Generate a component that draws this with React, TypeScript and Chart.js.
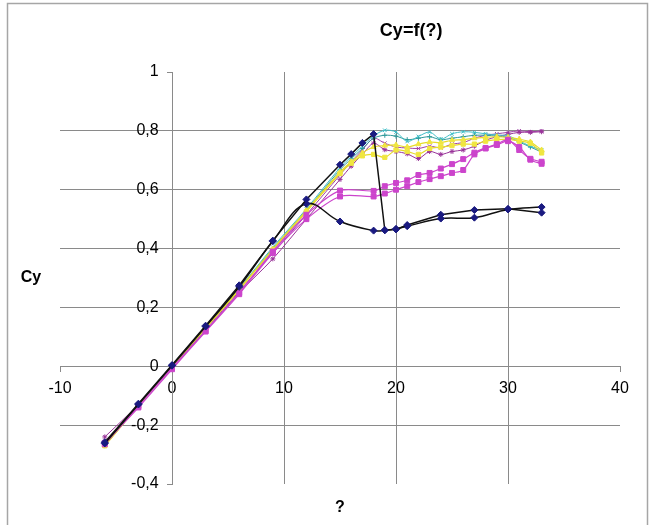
import React, { useEffect, useRef } from "react";
import { Chart, registerables } from "chart.js";

Chart.register(...registerables);

const TITLE = "Cy=f(?)";
const X_TITLE = "?";
const Y_TITLE = "Cy";

const X_MIN = -10;
const X_MAX = 40;
const X_STEP = 10;
const Y_MIN = -0.4;
const Y_MAX = 1;
const Y_STEP = 0.2;

// Black series with navy diamonds (stall with sharp drop)
const ALPHA_A = [-6, -3, 0, 3, 6, 9, 12, 15, 16, 17, 18, 19, 20, 21, 24, 27, 30, 33];
const CY_A = [-0.258, -0.127, 0.004, 0.138, 0.275, 0.427, 0.567, 0.685, 0.721, 0.759, 0.789, 0.463, 0.465, 0.48, 0.515, 0.531, 0.535, 0.522];

// Black series with navy diamonds (smooth hump)
const ALPHA_B = [-6, -3, 0, 3, 6, 9, 12, 15, 18, 19, 20, 21, 24, 27, 30, 33];
const CY_B = [-0.262, -0.13, 0.002, 0.135, 0.27, 0.425, 0.552, 0.492, 0.461, 0.462, 0.467, 0.476, 0.502, 0.505, 0.533, 0.541];

// Fine-step angles shared by the coloured series
const ALPHA_FINE = [-6, -3, 0, 3, 6, 9, 12, 15, 16, 17, 18, 19, 20, 21, 22, 23, 24, 25, 26, 27, 28, 29, 30, 31, 32, 33];
const ALPHA_SQ = [-6, -3, 0, 3, 6, 9, 12, 15, 18, 19, 20, 21, 22, 23, 24, 25, 26, 27, 28, 29, 30, 31, 32, 33];

const CY_CYAN = [-0.265, -0.133, 0.002, 0.132, 0.265, 0.405, 0.535, 0.675, 0.712, 0.748, 0.783, 0.802, 0.796, 0.764, 0.781, 0.796, 0.772, 0.79, 0.797, 0.795, 0.79, 0.786, 0.783, 0.766, 0.748, 0.735];
const CY_TEAL = [-0.27, -0.135, 0.0, 0.13, 0.262, 0.4, 0.53, 0.668, 0.705, 0.74, 0.775, 0.785, 0.782, 0.77, 0.775, 0.78, 0.77, 0.775, 0.78, 0.785, 0.785, 0.782, 0.778, 0.762, 0.745, 0.728];
const CY_YELLOW1 = [-0.27, -0.135, 0.0, 0.13, 0.26, 0.395, 0.525, 0.655, 0.69, 0.715, 0.72, 0.71, 0.735, 0.73, 0.72, 0.74, 0.745, 0.75, 0.755, 0.755, 0.765, 0.77, 0.772, 0.765, 0.758, 0.725];
const CY_YELLOW2 = [-0.268, -0.134, 0.0, 0.13, 0.262, 0.398, 0.53, 0.66, 0.695, 0.725, 0.745, 0.75, 0.752, 0.745, 0.755, 0.762, 0.76, 0.768, 0.77, 0.775, 0.778, 0.78, 0.778, 0.772, 0.762, 0.735];
const CY_PURPLE1 = [-0.24, -0.13, 0.0, 0.12, 0.25, 0.365, 0.5, 0.635, 0.68, 0.72, 0.758, 0.736, 0.73, 0.722, 0.706, 0.73, 0.72, 0.73, 0.735, 0.748, 0.768, 0.78, 0.788, 0.795, 0.795, 0.797];
const CY_PURPLE2 = [-0.262, -0.133, 0.0, 0.125, 0.255, 0.385, 0.515, 0.65, 0.695, 0.735, 0.775, 0.758, 0.745, 0.742, 0.74, 0.748, 0.742, 0.755, 0.76, 0.775, 0.785, 0.79, 0.795, 0.8, 0.797, 0.8];
const CY_MAGENTA1 = [-0.265, -0.135, -0.005, 0.12, 0.25, 0.39, 0.515, 0.597, 0.596, 0.612, 0.623, 0.632, 0.65, 0.657, 0.672, 0.687, 0.704, 0.726, 0.742, 0.755, 0.77, 0.735, 0.705, 0.695];
const CY_MAGENTA2 = [-0.26, -0.14, -0.01, 0.118, 0.245, 0.385, 0.5, 0.577, 0.577, 0.587, 0.6, 0.612, 0.626, 0.636, 0.646, 0.657, 0.667, 0.72, 0.74, 0.752, 0.765, 0.745, 0.702, 0.688];

const FONT = '"Liberation Sans", Arial, sans-serif';

function pts(xs: number[], ys: number[]) {
  return xs.map((x, i) => ({ x, y: ys[i] }));
}

function series(xs: number[], ys: number[], line: string, marker: string, style: string, radius: number, width: number, tension: number) {
  return {
    data: pts(xs, ys),
    borderColor: line,
    backgroundColor: marker,
    pointBorderColor: marker,
    pointBackgroundColor: marker,
    pointStyle: style,
    pointRadius: radius,
    pointBorderWidth: 1,
    borderWidth: width,
    tension,
    showLine: true,
  };
}

const decor = {
  id: "decor",
  beforeDraw(chart: any) {
    const ctx = chart.ctx;
    ctx.save();
    ctx.fillStyle = "#ffffff";
    ctx.fillRect(0, 0, chart.width, chart.height);
    ctx.strokeStyle = "#a6a6a6";
    ctx.lineWidth = 1.5;
    ctx.strokeRect(7.5, 3.5, 640, 560);
    ctx.restore();
  },
  afterDraw(chart: any) {
    const { ctx, chartArea: ca } = chart;
    ctx.save();
    ctx.fillStyle = "#000000";
    ctx.textAlign = "center";
    ctx.textBaseline = "middle";
    ctx.font = `bold 18px ${FONT}`;
    ctx.fillText(TITLE, ca.left + (ca.right - ca.left) * 0.627, ca.top - 41);
    ctx.font = `bold 16px ${FONT}`;
    ctx.fillText(Y_TITLE, ca.left - 29, ca.top + (ca.bottom - ca.top) * 0.5);
    ctx.fillText(X_TITLE, (ca.left + ca.right) / 2, ca.bottom + 24);
    ctx.restore();
  },
};

export default function App() {
  const ref = useRef<HTMLCanvasElement | null>(null);

  useEffect(() => {
    if (!ref.current) return;
    const edgeX = (c: any) =>
      c.tick && (c.tick.value === X_MIN || c.tick.value === X_MAX) ? "rgba(0,0,0,0)" : "#8a8a8a";
    const edgeY = (c: any) =>
      c.tick && (Math.abs(c.tick.value - Y_MIN) < 1e-6 || Math.abs(c.tick.value - Y_MAX) < 1e-6)
        ? "rgba(0,0,0,0)"
        : "#8a8a8a";

    const chart = new Chart(ref.current, {
      type: "scatter",
      data: {
        datasets: [
          series(ALPHA_A, CY_A, "#111111", "#1a1a80", "rectRot", 3.5, 1.5, 0),
          series(ALPHA_B, CY_B, "#111111", "#1a1a80", "rectRot", 3.5, 1.5, 0.4),
          series(ALPHA_SQ, CY_MAGENTA1, "#cc44cc", "#cc44cc", "rect", 3.5, 1.2, 0.3),
          series(ALPHA_SQ, CY_MAGENTA2, "#cc44cc", "#cc44cc", "rect", 3.5, 1.2, 0.3),
          series(ALPHA_FINE, CY_YELLOW1, "#e6dc2a", "#f0e640", "rect", 3, 1.2, 0.3),
          series(ALPHA_FINE, CY_YELLOW2, "#e6dc2a", "#f0e640", "triangle", 3, 1.2, 0.3),
          series(ALPHA_FINE, CY_CYAN, "#3fbfc8", "#3fbfc8", "crossRot", 2.5, 1, 0.3),
          series(ALPHA_FINE, CY_TEAL, "#2f9a9a", "#2f9a9a", "cross", 2.5, 1, 0.3),
          series(ALPHA_FINE, CY_PURPLE1, "#993399", "#993399", "star", 2.5, 1, 0.3),
          series(ALPHA_FINE, CY_PURPLE2, "#a040a8", "#a040a8", "crossRot", 2.5, 1, 0.3),
        ] as any,
      },
      options: {
        animation: false,
        responsive: true,
        maintainAspectRatio: false,
        layout: { padding: { left: 60, right: 31, top: 72, bottom: 41 } },
        plugins: { legend: { display: false }, tooltip: { enabled: false }, title: { display: false } },
        scales: {
          x: {
            type: "linear",
            position: { y: 0 } as any,
            min: X_MIN,
            max: X_MAX,
            ticks: {
              stepSize: X_STEP,
              color: "#000000",
              font: { family: FONT, size: 16 },
              padding: 8,
              maxRotation: 0,
            },
            grid: { color: edgeX, lineWidth: 1, tickLength: 5, tickColor: "#8a8a8a" },
            border: { display: true, color: "#8a8a8a", width: 1 },
          },
          y: {
            type: "linear",
            position: { x: 0 } as any,
            min: Y_MIN,
            max: Y_MAX,
            ticks: {
              stepSize: Y_STEP,
              color: "#000000",
              font: { family: FONT, size: 16 },
              padding: 9,
              callback: (v: any) => String(Math.round(Number(v) * 10) / 10).replace(".", ",") + "   ",
            },
            grid: { color: edgeY, lineWidth: 1, tickLength: 5, tickColor: "#8a8a8a" },
            border: { display: true, color: "#8a8a8a", width: 1 },
          },
        },
      },
      plugins: [decor],
    } as any);
    return () => chart.destroy();
  }, []);

  return (
    <div style={{ position: "absolute", left: 0, top: 0, width: 651, height: 525, background: "#fff" }}>
      <canvas ref={ref} />
    </div>
  );
}
